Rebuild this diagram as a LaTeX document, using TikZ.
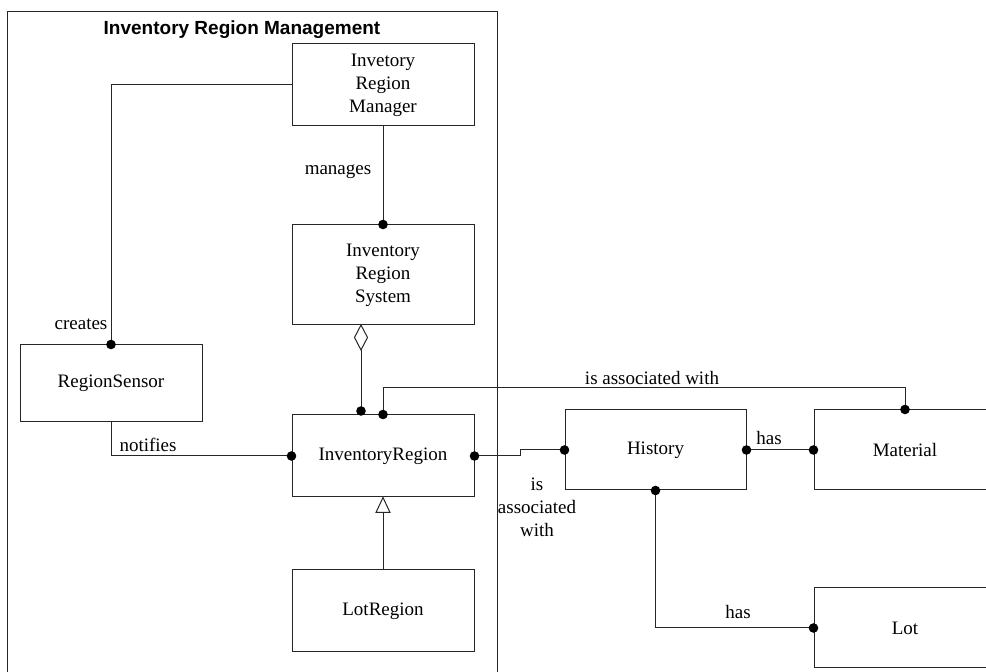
\documentclass[tikz,border=0pt]{standalone}
\usepackage{fontspec}
\setmainfont{Liberation Serif}
\newfontfamily\headfont{Liberation Sans}
\usetikzlibrary{calc}
\begin{document}
\begin{tikzpicture}[x=0.5pt,y=-0.5pt,
  line width=0.5pt, draw=black!85,
  cls/.style={draw, fill=white, inner sep=0pt, minimum width=91pt, align=center,
    font=\fontsize{9.5}{11.5}\selectfont},
  lbl/.style={inner sep=0pt, align=center, font=\fontsize{9.5}{11.5}\selectfont},
  conn/.style={draw, line width=0.5pt},
  dot/.style={fill=black}]
\useasboundingbox (0,0) rectangle (986,672);
\clip (0,0) rectangle (986,672);

% package frame and its title
\draw (7,12) rectangle (497,700);
\node[font=\headfont\bfseries\fontsize{9.5}{11.5}\selectfont] (title) at (242,30) {Inventory Region Management};

% classes
\node[cls, minimum height=41pt] (mgr) at (383,85) {Invetory\\Region\\Manager};
\node[cls, minimum height=50pt] (sys) at (383,275) {Inventory\\Region\\System};
\node[cls, minimum height=38.5pt] (sensor) at (111,383.5) {RegionSensor};
\node[cls, minimum height=41pt] (ir) at (383,456) {InventoryRegion};
\node[cls, minimum height=41pt] (lotr) at (383,611) {LotRegion};
\node[cls, minimum width=90.5pt, minimum height=40pt] (hist) at (655.5,450) {History};
\node[cls, minimum height=40pt] (mat) at (905,450) {Material};
\node[cls, minimum height=40pt] (lot) at (905,628) {Lot};

% helper points
\coordinate (aggEnd) at (361,411);
\coordinate (assocStart) at (ir.north);

% creates
\draw[conn] (mgr.west) -| (sensor.north);
\fill[dot] (sensor.north) circle (2.4pt);
\node[lbl] (lcreates) at (81,324) {creates};

% manages
\draw[conn] (mgr.south) -- (sys.north);
\fill[dot] (sys.north) circle (2.4pt);
\node[lbl] (lmanages) at (338,172) {manages};

% aggregation System <>-- InventoryRegion
\coordinate (dtop) at (361,325);
\draw[fill=white] (dtop) -- (367.5,337.5) -- (361,350) coordinate (dbot) -- (354.5,337.5) -- cycle;
\draw[conn] (dbot) -- (aggEnd);
\fill[dot] (aggEnd) circle (2.4pt);

% notifies
\draw[conn] (sensor.south) |- (ir.west);
\fill[dot] (ir.west) circle (2.4pt);
\node[lbl] (lnotifies) at (148,445) {notifies};

% InventoryRegion -- Material
\draw[conn] (assocStart) -- (assocStart |- 0,388) -| (mat.north);
\fill[dot] (assocStart) circle (2.4pt);
\fill[dot] (mat.north) circle (2.4pt);
\node[lbl] (lassoc1) at (652,378) {is associated with};

% InventoryRegion -- History
\draw[conn] (ir.east) -- (ir.east -| 520,0) |- (hist.west);
\fill[dot] (ir.east) circle (2.4pt);
\fill[dot] (hist.west) circle (2.4pt);
\node[lbl] (lassoc2) at (537,507) {is\\associated\\with};

% History -- Material
\draw[conn] (hist.east) -- (mat.west);
\fill[dot] (hist.east) circle (2.4pt);
\fill[dot] (mat.west) circle (2.4pt);
\node[lbl] (lhas1) at (769,438) {has};

% History -- Lot
\draw[conn] (hist.south) |- (lot.west);
\fill[dot] (hist.south) circle (2.4pt);
\fill[dot] (lot.west) circle (2.4pt);
\node[lbl] (lhas2) at (738,612) {has};

% generalization LotRegion --|> InventoryRegion
\draw[conn] (lotr.north) -- ($(ir.south)+(0,15)$);
\draw[fill=white] (ir.south) -- ++(7,15) -- ++(-14,0) -- cycle;
\end{tikzpicture}
\end{document}
